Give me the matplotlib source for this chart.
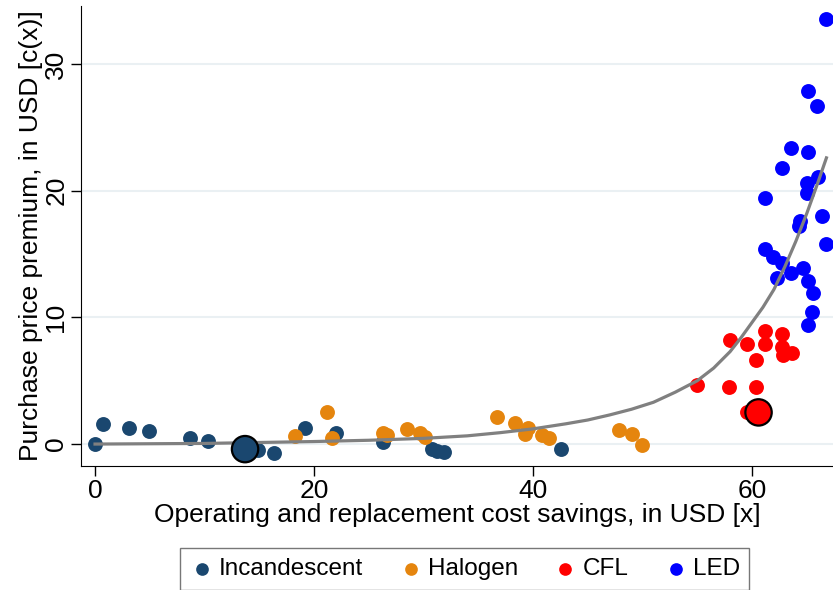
import numpy as np
import matplotlib
matplotlib.use("Agg")
from matplotlib import pyplot as plt

plt.rcParams['font.family'] = ['Liberation Sans', 'DejaVu Sans']

# savings x, premium y per technology
inc_x = [0.0, 0.7, 3.1, 4.9, 8.7, 10.3, 14.9, 16.3, 19.2, 22.0, 26.3, 30.8, 31.2, 31.9, 42.6]
inc_y = [0.0, 1.6, 1.3, 1.0, 0.5, 0.25, -0.5, -0.7, 1.3, 0.87, 0.15, -0.4, -0.55, -0.6, -0.4]

hal_x = [18.3, 21.2, 21.6, 26.3, 26.7, 28.5, 29.7, 30.1, 36.7, 38.4, 39.5, 39.3, 40.8, 41.5, 47.9, 49.0, 50.0]
hal_y = [0.6, 2.5, 0.5, 0.87, 0.7, 1.2, 0.87, 0.55, 2.1, 1.65, 1.25, 0.8, 0.7, 0.5, 1.1, 0.8, -0.1]

cfl_x = [55.0, 57.9, 60.4, 58.0, 59.5, 61.2, 61.2, 60.4, 62.7, 62.7, 63.7, 62.8, 59.5]
cfl_y = [4.7, 4.5, 4.5, 8.2, 7.9, 8.9, 7.9, 6.6, 8.7, 7.7, 7.2, 7.0, 2.5]

led_x = [66.8, 65.1, 65.9, 63.6, 65.1, 62.7, 66.0, 65.0, 65.0, 61.2, 66.4, 64.4, 64.3, 66.8,
         61.2, 61.9, 62.7, 62.3, 63.6, 64.7, 65.1, 65.6, 65.5, 65.1]
led_y = [33.6, 27.9, 26.7, 23.4, 23.1, 21.8, 21.1, 20.6, 19.8, 19.4, 18.0, 17.6, 17.2, 15.8,
         15.4, 14.8, 14.3, 13.1, 13.5, 13.9, 12.9, 11.9, 10.4, 9.4]

# group means (large markers)
mean_x = [13.7, 60.6]
mean_y = [-0.4, 2.5]

# fitted curve
fit_x = [0, 10, 20, 25, 30, 34, 37, 40, 43, 45, 47, 49, 51, 53, 55, 56.5, 58, 59,
         60, 61, 62, 63, 64, 65, 66, 66.8]
fit_y = [0.0, 0.05, 0.2, 0.3, 0.45, 0.65, 0.9, 1.2, 1.6, 1.9, 2.3, 2.75, 3.3, 4.1, 5.0, 6.0,
         7.3, 8.4, 9.6, 10.8, 12.2, 14.0, 16.0, 18.2, 20.6, 22.6]

c_inc = '#1a476f'
c_hal = '#e5850e'
c_cfl = '#ff0000'
c_led = '#0000ff'

fig = plt.figure(figsize=(8.33, 5.9), dpi=100)
ax = fig.add_axes([0.097, 0.21, 0.903, 0.78])

for yv in [0, 10, 20, 30]:
    ax.axhline(yv, color='#eaf0f3', lw=1.5, zorder=0)

s = 115
ax.scatter(inc_x, inc_y, s=s, color=c_inc, lw=0, zorder=2, label='Incandescent')
ax.scatter(hal_x, hal_y, s=s, color=c_hal, lw=0, zorder=2, label='Halogen')
ax.scatter(cfl_x, cfl_y, s=s, color=c_cfl, lw=0, zorder=2, label='CFL')
ax.scatter(led_x, led_y, s=s, color=c_led, lw=0, zorder=2, label='LED')
ax.plot(fit_x, fit_y, color='#808080', lw=2.3, zorder=3, solid_joinstyle='round')
ax.scatter(mean_x, mean_y, s=360, color=[c_inc, c_cfl], edgecolor='black', lw=1.6, zorder=4)

ax.set_xlim(-1.3, 67.4)
ax.set_ylim(-1.74, 34.6)
ax.set_xticks([0, 20, 40, 60])
ax.set_yticks([0, 10, 20, 30])
ax.tick_params(labelsize=19, length=7, width=1, pad=2)
for lab in ax.get_yticklabels():
    lab.set_rotation(90)
    lab.set_va('center')
ax.spines['top'].set_visible(False)
ax.spines['right'].set_visible(False)
ax.set_xlabel('Operating and replacement cost savings, in USD [x]', fontsize=19, labelpad=0)
ax.set_ylabel('Purchase price premium, in USD [c(x)]', fontsize=19, labelpad=1)

leg = fig.legend(loc='lower center', bbox_to_anchor=(0.558, -0.02), ncol=4, fontsize=17.5,
                 frameon=True, fancybox=False, edgecolor='#555555', markerscale=0.85,
                 handletextpad=0.2, columnspacing=1.45, borderpad=0.4, handlelength=1.0)
leg.get_frame().set_linewidth(1.0)

plt.savefig('out.png', dpi=100)
